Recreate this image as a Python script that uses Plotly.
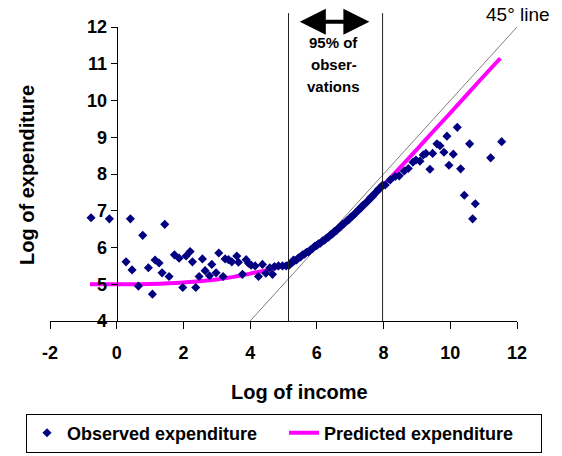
import plotly.graph_objects as go

# Observed household expenditure (log) against log income
obs_income = [
    -0.77, -0.22, 0.41, 0.78, 0.28, 0.46, 0.65, 0.95, 1.07, 1.15, 1.27, 1.36,
    1.44, 1.57, 1.73, 1.87, 1.98, 2.08, 2.20, 2.27, 2.37, 2.47, 2.57, 2.65,
    2.78, 2.85, 2.98, 3.06, 3.19, 3.25, 3.35, 3.45, 3.60, 3.65, 3.77, 3.88,
    3.95, 4.03, 4.15, 4.25, 4.37, 4.47, 4.59, 4.67, 4.73, 4.85, 4.97, 5.08,
    5.17, 5.30,
    5.22, 5.27, 5.33, 5.39, 5.45, 5.51, 5.57, 5.63, 5.69, 5.75, 5.81, 5.87,
    5.93, 5.99, 6.05, 6.11, 6.17, 6.23, 6.29, 6.35, 6.41, 6.47, 6.53, 6.59,
    6.65, 6.71, 6.77, 6.83, 6.89, 6.95, 7.01, 7.07, 7.13, 7.19, 7.25, 7.31,
    7.37, 7.43, 7.49, 7.55, 7.61, 7.67, 7.73, 7.79, 7.85, 7.91, 7.97,
    8.05, 8.20, 8.35, 8.47, 8.62, 8.74, 8.88, 8.97, 9.09, 9.19, 9.27, 9.47,
    9.39, 9.60, 9.69, 9.90, 9.81, 9.96, 10.09, 10.21, 10.31, 10.42, 10.58,
    10.75, 10.67, 11.21, 11.54,
]
obs_expenditure = [
    6.81, 6.78, 6.78, 6.33, 5.61, 5.39, 4.95, 5.45, 4.73, 5.66, 5.58, 5.31,
    6.63, 5.21, 5.80, 5.71, 4.91, 5.77, 5.89, 5.61, 4.91, 5.21, 5.69, 5.37,
    5.23, 5.54, 5.31, 5.85, 5.21, 5.69, 5.67, 5.61, 5.77, 5.60, 5.27, 5.67,
    5.57, 5.52, 5.50, 5.21, 5.54, 5.30, 5.45, 5.27, 5.48, 5.50, 5.50, 5.50,
    5.52, 5.66,
    5.57, 5.60, 5.64, 5.66, 5.72, 5.74, 5.80, 5.82, 5.87, 5.88, 5.94, 5.97,
    6.03, 6.05, 6.10, 6.12, 6.18, 6.20, 6.26, 6.28, 6.35, 6.37, 6.44, 6.46,
    6.53, 6.56, 6.63, 6.66, 6.72, 6.75, 6.82, 6.85, 6.92, 6.96, 7.03, 7.06,
    7.14, 7.17, 7.24, 7.28, 7.36, 7.39, 7.47, 7.51, 7.59, 7.62, 7.70,
    7.70, 7.84, 7.93, 7.95, 8.08, 8.15, 8.32, 8.38, 8.35, 8.52, 8.56, 8.56,
    8.13, 8.82, 8.77, 9.03, 8.59, 8.24, 8.54, 9.27, 8.14, 7.42, 8.82,
    7.19, 6.78, 8.44, 8.88,
]

# Model prediction
pred_income = [-0.8, 0, 1, 2, 3, 3.5, 4, 4.5, 5, 5.5, 6, 6.5, 7, 7.5, 8,
               8.5, 9, 9.5, 10, 10.5, 11, 11.5]
pred_expenditure = [5.0, 5.0, 5.01, 5.05, 5.13, 5.2, 5.29, 5.38, 5.51, 5.74,
                    6.05, 6.42, 6.81, 7.24, 7.7, 8.18, 8.67, 9.17, 9.66,
                    10.16, 10.66, 11.15]

# 45 degree reference line and the band holding 95% of observations
diag = [4, 12]
band_low, band_high = 5.15, 7.97
arrow_left, arrow_right = 5.445, 7.574

x_ticks = [-2, 0, 2, 4, 6, 8, 10, 12]
x_tick_text = ["-2", "0", "2", "4", "6", "8", "10", "12"]
y_ticks = [4, 5, 6, 7, 8, 9, 10, 11, 12]

FONT = "Liberation Sans, Arial, sans-serif"

fig = go.Figure()

fig.add_trace(go.Scatter(
    x=diag, y=diag, mode="lines",
    line=dict(color="#7f7f7f", width=1),
    showlegend=False, hoverinfo="skip",
))
fig.add_trace(go.Scatter(
    x=pred_income, y=pred_expenditure, mode="lines",
    name="Predicted expenditure", legendrank=2,
    line=dict(color="#ff00ff", width=4, shape="spline"),
))
fig.add_trace(go.Scatter(
    x=obs_income, y=obs_expenditure, mode="markers",
    name="Observed expenditure", legendrank=1,
    marker=dict(symbol="diamond", size=7, color="#000080"),
))

for xv in (band_low, band_high):
    fig.add_shape(type="line", xref="x", yref="paper",
                  x0=xv, x1=xv, y0=0, y1=1.047,
                  line=dict(color="#222222", width=1))

# double-headed arrow over the band
fig.add_annotation(xref="x", yref="paper", axref="x", ayref="pixel",
                   x=arrow_right, y=1.018, ax=arrow_left, ay=0, text="",
                   showarrow=True, arrowhead=2, arrowside="end+start",
                   arrowwidth=4, arrowsize=1.3, arrowcolor="black")

for txt, yy in (("95% of", 0.946), ("obser-", 0.871), ("vations", 0.799)):
    fig.add_annotation(xref="paper", yref="paper", x=0.608, y=yy,
                       text=f"<b>{txt}</b>", showarrow=False,
                       font=dict(family=FONT, size=15, color="black"),
                       xanchor="center", yanchor="middle")

fig.add_annotation(xref="paper", yref="paper", x=1.002, y=1.041,
                   text="45° line", showarrow=False,
                   font=dict(family=FONT, size=19, color="black"),
                   xanchor="center", yanchor="middle")

fig.add_annotation(xref="paper", yref="paper", x=0.535, y=-0.2415,
                   text="<b>Log of income</b>", showarrow=False,
                   font=dict(family=FONT, size=20, color="black"),
                   xanchor="center", yanchor="middle")
fig.add_annotation(xref="paper", yref="paper", x=-0.049, y=0.497,
                   text="<b>Log of expenditure</b>", showarrow=False,
                   textangle=-90,
                   font=dict(family=FONT, size=20, color="black"),
                   xanchor="center", yanchor="middle")

fig.update_layout(
    width=562, height=456,
    margin=dict(l=50, r=45, t=27, b=135, autoexpand=False),
    paper_bgcolor="white", plot_bgcolor="white",
    font=dict(family=FONT, color="black"),
    xaxis=dict(range=[-2, 12], tickvals=x_ticks, ticktext=x_tick_text,
               showgrid=False,
               zeroline=False, showline=True, linecolor="black",
               linewidth=1, ticks="outside", ticklen=7, tickcolor="black",
               tickfont=dict(size=18, family=FONT, weight="bold"),
               ticklabelstandoff=8),
    yaxis=dict(range=[4, 12], tickvals=y_ticks, showgrid=False,
               zeroline=False, showline=True, linecolor="black",
               linewidth=1, ticks="outside", ticklen=6, tickcolor="black",
               anchor="free", position=1 / 7,
               tickfont=dict(size=18, family=FONT, weight="bold")),
    legend=dict(orientation="h", x=-0.0514, y=-0.381,
                xanchor="left", yanchor="middle",
                bordercolor="black", borderwidth=1, bgcolor="white",
                font=dict(size=18, family=FONT, weight="bold"),
                entrywidth=212, entrywidthmode="pixels"),
    showlegend=True,
)

fig.write_html("out.html")
